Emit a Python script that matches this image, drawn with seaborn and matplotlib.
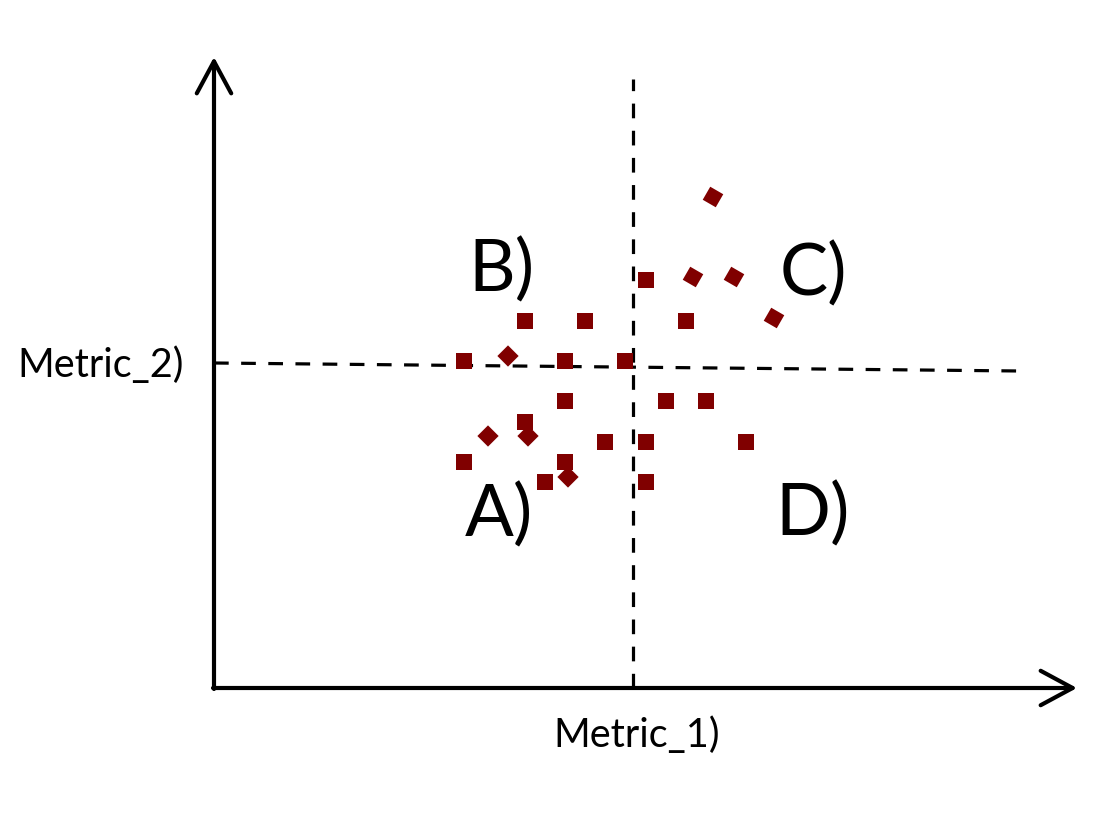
import matplotlib
matplotlib.use("Agg")
import matplotlib.pyplot as plt
import seaborn as sns
import pandas as pd

# ---- data (Metric_1, Metric_2) ----
square_x = [31.1, 37.1, 25.0, 35.1, 41.1, 35.1, 31.1, 39.1, 43.2, 25.0, 35.1, 33.1, 43.2,
            43.2, 47.2, 45.2, 49.2, 53.2]
square_y = [36.7, 36.7, 32.7, 32.7, 32.7, 28.7, 26.6, 24.6, 24.6, 22.6, 22.6, 20.6, 20.6,
            40.8, 36.7, 28.7, 28.7, 24.6]
diamond_x = [29.4, 27.4, 31.4, 35.4]
diamond_y = [33.2, 25.2, 25.2, 21.1]
tilted_x = [49.9, 47.9, 52.0, 56.0]
tilted_y = [49.1, 41.1, 41.1, 37.0]

x_cut = 41.9
y_cut_left, y_cut_right = 32.5, 31.7

quadrant_labels = ["A)", "B)", "C)", "D)"]
quadrant_pos_x = [28.5, 28.7, 59.9, 59.9]
quadrant_pos_y = [17.4, 41.9, 41.5, 17.5]

x_label = "Metric_1)"
y_label = "Metric_2)"

df = pd.DataFrame({
    "Metric_1": square_x + diamond_x + tilted_x,
    "Metric_2": square_y + diamond_y + tilted_y,
    "shape": ["square"] * len(square_x) + ["diamond"] * len(diamond_x) + ["tilted"] * len(tilted_x),
})

sns.set_theme(style="white")
plt.rcParams["font.family"] = ["Lato", "DejaVu Sans"]

fig = plt.figure(figsize=(10.93, 8.2), dpi=100)
ax = fig.add_axes([0, 0, 1, 1])
ax.set_xlim(-21.4, 87.9)
ax.set_ylim(-13.1, 68.9)
ax.set_axis_off()

color = "#800000"
sns.scatterplot(data=df, x="Metric_1", y="Metric_2", style="shape",
                markers={"square": (4, 0, 45), "diamond": (4, 0, 0), "tilted": (4, 0, 15)},
                color=color, s=235, linewidth=0, legend=False, ax=ax, zorder=3)

# axes with arrows
arrow = dict(arrowstyle="->,head_length=1.15,head_width=0.62", lw=3.0, color="black",
             shrinkA=0, shrinkB=0, mutation_scale=20, capstyle="round", joinstyle="round")
ax.annotate("", xy=(86.3, 0), xytext=(-0.1, 0), arrowprops=arrow)
ax.annotate("", xy=(0, 63.1), xytext=(0, -0.1), arrowprops=arrow)

# dashed threshold lines
ax.plot([x_cut, x_cut], [0, 60.9], color="black", lw=2.3, dashes=(4.6, 3.9), zorder=2)
ax.plot([0, 80.6], [y_cut_left, y_cut_right], color="black", lw=2.3, dashes=(4.6, 3.9), zorder=2)

for lab, qx, qy in zip(quadrant_labels, quadrant_pos_x, quadrant_pos_y):
    ax.text(qx, qy, lab, fontsize=52, ha="center", va="center", color="black")

ax.text(42.3, -4.6, x_label, fontsize=28.5, ha="center", va="center", color="black")
ax.text(-11.3, 32.4, y_label, fontsize=28.5, ha="center", va="center", color="black")

fig.savefig("out.png", dpi=100, facecolor="white")
